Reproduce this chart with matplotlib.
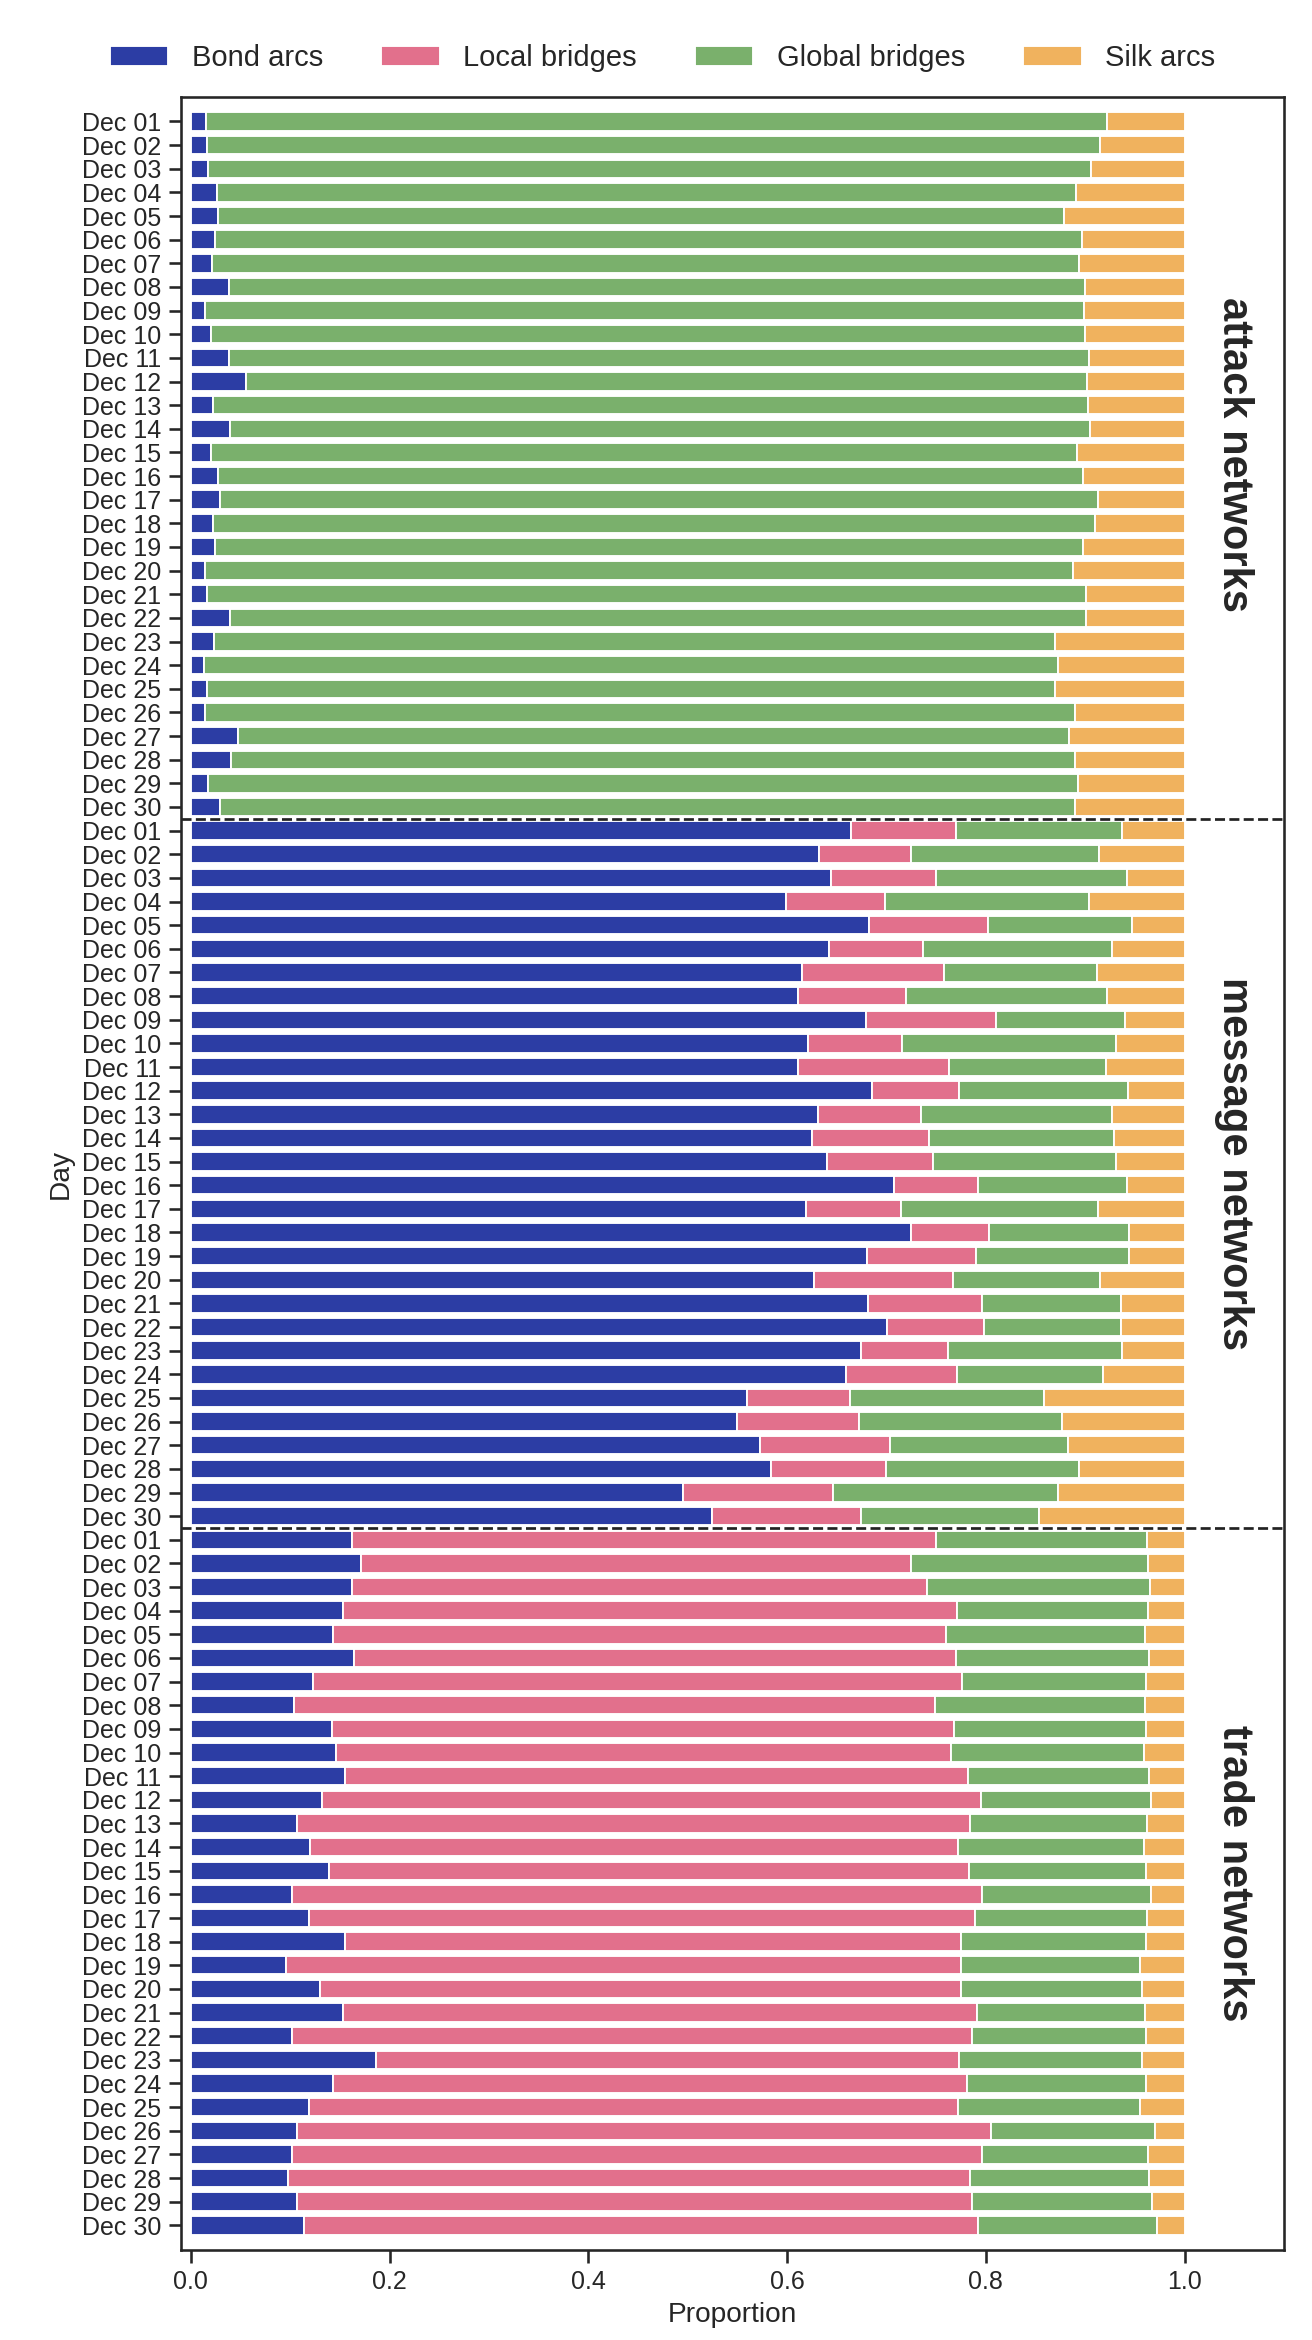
import numpy as np
import matplotlib
matplotlib.use("Agg")
import matplotlib.pyplot as plt
import seaborn as sns

sns.set_style("ticks")
plt.rcParams['font.family'] = ['Liberation Sans', 'DejaVu Sans']

days = [f"Dec {d:02d}" for d in range(1, 31)]
groups = ["attack networks", "message networks", "trade networks"]
categories = ["Bond arcs", "Local bridges", "Global bridges", "Silk arcs"]
colors = ["#2C3DA4", "#E2708C", "#7AB06C", "#F0B25E"]

attack_bond = [0.015, 0.016, 0.0175, 0.0265, 0.027, 0.0245, 0.021, 0.0386, 0.0138, 0.020,
               0.038, 0.0554, 0.0225, 0.039, 0.0205, 0.0269, 0.0295, 0.022, 0.0245, 0.0144,
               0.0164, 0.039, 0.0232, 0.0128, 0.0158, 0.0144, 0.0473, 0.0403, 0.0175, 0.029]
attack_local = [0.0] * 30
attack_global = [0.907, 0.8984, 0.8885, 0.8645, 0.8515, 0.8725, 0.873, 0.8614, 0.8852, 0.8793,
                 0.8657, 0.8466, 0.8805, 0.866, 0.8715, 0.8711, 0.8832, 0.888, 0.8735, 0.8736,
                 0.8846, 0.8616, 0.8468, 0.8602, 0.8536, 0.8756, 0.8367, 0.8497, 0.8755, 0.861]
attack_silk = [0.078, 0.0856, 0.094, 0.109, 0.1215, 0.103, 0.106, 0.100, 0.101, 0.1007,
               0.0963, 0.098, 0.097, 0.095, 0.108, 0.102, 0.0873, 0.090, 0.102, 0.112,
               0.099, 0.0994, 0.130, 0.127, 0.1306, 0.110, 0.116, 0.110, 0.107, 0.110]

message_bond = [0.6645, 0.632, 0.644, 0.599, 0.682, 0.642, 0.615, 0.611, 0.679, 0.621,
                0.611, 0.685, 0.631, 0.625, 0.640, 0.708, 0.619, 0.725, 0.680, 0.627,
                0.681, 0.7005, 0.674, 0.659, 0.5596, 0.550, 0.573, 0.584, 0.495, 0.524]
message_local = [0.1055, 0.093, 0.106, 0.0996, 0.120, 0.095, 0.1425, 0.109, 0.131, 0.095,
                 0.152, 0.0876, 0.104, 0.118, 0.107, 0.084, 0.096, 0.078, 0.110, 0.140,
                 0.115, 0.0975, 0.088, 0.112, 0.1034, 0.122, 0.131, 0.115, 0.151, 0.150]
message_global = [0.167, 0.189, 0.192, 0.2054, 0.145, 0.190, 0.1545, 0.202, 0.130, 0.215,
                  0.158, 0.1704, 0.1916, 0.186, 0.184, 0.150, 0.198, 0.141, 0.154, 0.148,
                  0.140, 0.138, 0.175, 0.147, 0.195, 0.205, 0.179, 0.195, 0.227, 0.179]
message_silk = [0.063, 0.086, 0.058, 0.096, 0.053, 0.073, 0.088, 0.078, 0.060, 0.069,
                0.079, 0.057, 0.0734, 0.071, 0.069, 0.058, 0.087, 0.056, 0.056, 0.085,
                0.064, 0.064, 0.063, 0.082, 0.142, 0.123, 0.117, 0.106, 0.127, 0.147]

trade_bond = [0.1625, 0.171, 0.1618, 0.1526, 0.1428, 0.1637, 0.123, 0.104, 0.1415, 0.146,
              0.155, 0.132, 0.107, 0.120, 0.139, 0.102, 0.119, 0.155, 0.096, 0.1297,
              0.1526, 0.1015, 0.186, 0.1434, 0.1185, 0.107, 0.1015, 0.098, 0.107, 0.114]
trade_local = [0.5872, 0.5533, 0.5792, 0.6184, 0.6172, 0.6063, 0.653, 0.645, 0.626, 0.619,
               0.627, 0.663, 0.6775, 0.6515, 0.6436, 0.6943, 0.670, 0.6197, 0.6787, 0.645,
               0.6384, 0.6845, 0.5868, 0.6372, 0.6535, 0.698, 0.6948, 0.6859, 0.6795, 0.6777]
trade_global = [0.2129, 0.2387, 0.224, 0.192, 0.200, 0.1946, 0.185, 0.211, 0.1935, 0.1938,
                0.1826, 0.1716, 0.1775, 0.1873, 0.1781, 0.1703, 0.173, 0.186, 0.1801, 0.182,
                0.169, 0.1747, 0.1846, 0.1801, 0.1835, 0.165, 0.1664, 0.1807, 0.1805, 0.1801]
trade_silk = [0.0374, 0.037, 0.035, 0.037, 0.040, 0.0354, 0.039, 0.040, 0.039, 0.0412,
              0.0354, 0.0334, 0.038, 0.0412, 0.0393, 0.0334, 0.038, 0.0393, 0.0452, 0.0433,
              0.040, 0.0393, 0.0426, 0.0393, 0.0445, 0.030, 0.0373, 0.0354, 0.033, 0.0282]

data = [
    [attack_bond, attack_local, attack_global, attack_silk],
    [message_bond, message_local, message_global, message_silk],
    [trade_bond, trade_local, trade_global, trade_silk],
]

W, H, DPI = 1312, 2340, 150
fig = plt.figure(figsize=(W / DPI, H / DPI), dpi=DPI)
ax = fig.add_axes([181 / W, 1 - 2250 / H, (1284 - 181) / W, (2250 - 97) / H])

vals = np.hstack([np.array(g) for g in data])  # shape (4, 90)
n = vals.shape[1]
ypos = np.arange(n)
left = np.zeros(n)
for k, cat in enumerate(categories):
    ax.barh(ypos, vals[k], left=left, height=0.78, color=colors[k],
            edgecolor="white", linewidth=0.9, label=cat)
    left = left + vals[k]

ax.set_yticks(ypos)
ax.set_yticklabels(days * len(groups))
ax.set_ylim(n - 1 + 1.045, -1.036)
ax.set_xlim(-0.01, 1.1)
ax.set_xticks([0.0, 0.2, 0.4, 0.6, 0.8, 1.0])
ax.set_xticklabels(["0.0", "0.2", "0.4", "0.6", "0.8", "1.0"])
ax.tick_params(axis='both', labelsize=12, colors='.15', length=6, width=1.25)
ax.set_xlabel("Proportion", fontsize=13.5, color='.15')
ax.set_ylabel("Day", fontsize=13.5, color='.15')
for sp in ax.spines.values():
    sp.set_linewidth(1.25)
    sp.set_color('.15')

for gi in range(1, len(groups)):
    ax.axhline(gi * 30 - 0.5, color='#222222', linestyle='--', linewidth=1.3)

for gi, g in enumerate(groups):
    ax.text(1.05, gi * 30 + 14.1, g, rotation=-90, ha='center', va='center',
            fontsize=20, fontweight='bold', color='.15')

fig.legend(loc='center', bbox_to_anchor=(0.505, 1 - 58 / H), ncol=4, frameon=False,
           fontsize=14, columnspacing=2.0, handlelength=2.0)

fig.savefig("out.png", dpi=DPI)
